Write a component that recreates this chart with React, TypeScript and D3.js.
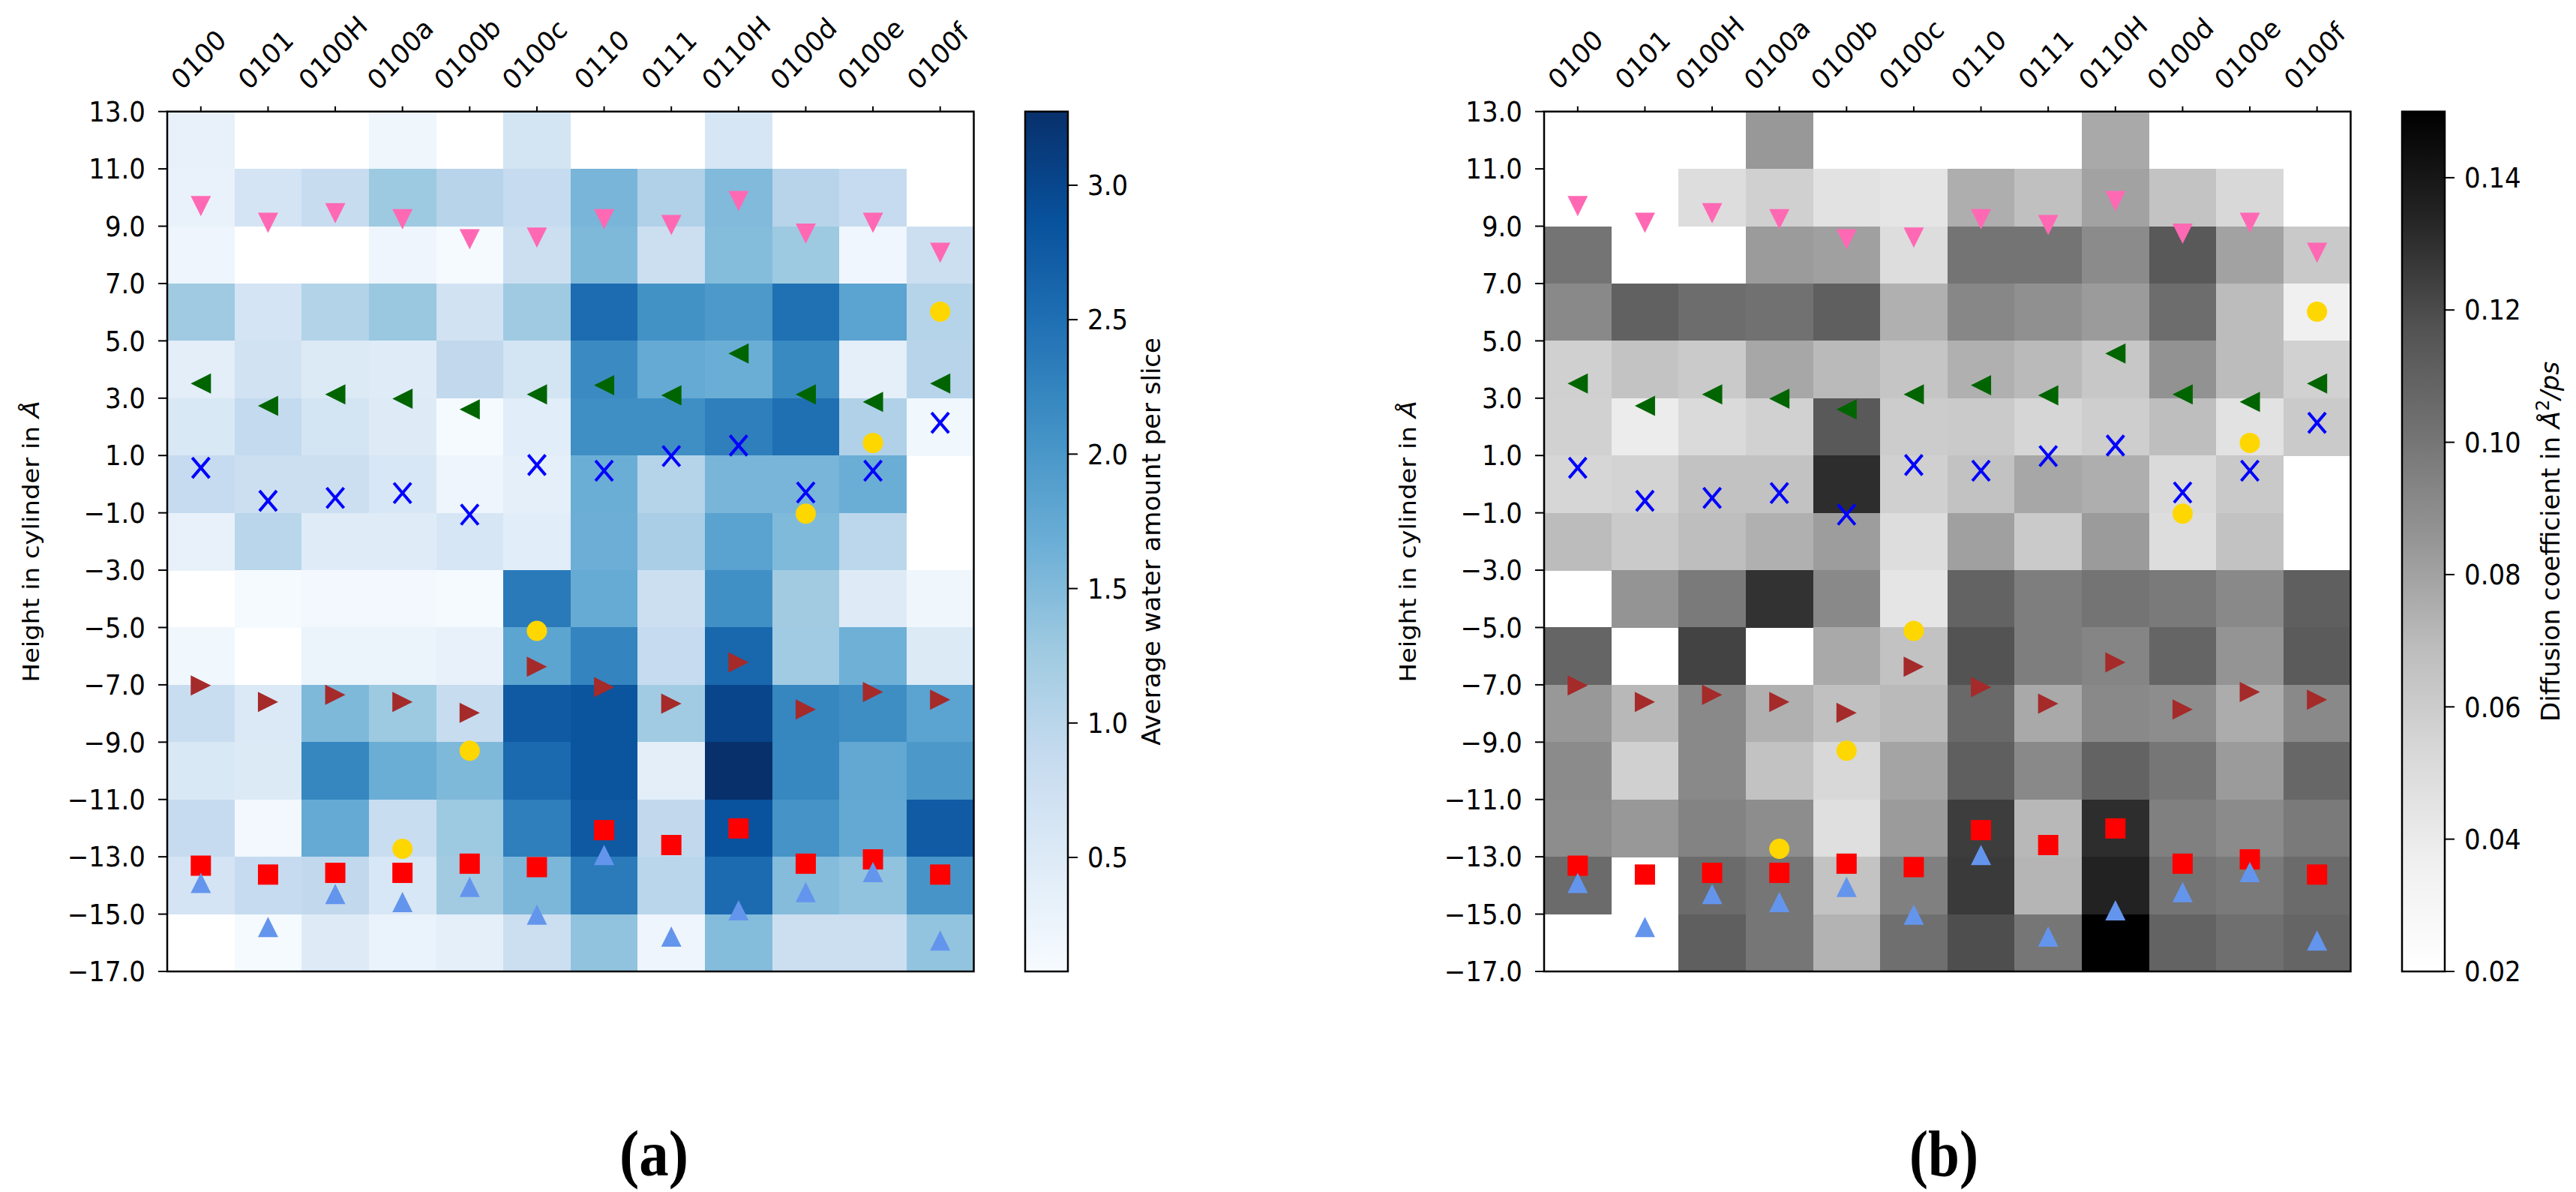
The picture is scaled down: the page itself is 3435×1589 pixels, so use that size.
import React from 'react';
import * as d3 from 'd3';

// ---------------- data ----------------
const columns = ['0100', '0101', '0100H', '0100a', '0100b', '0100c', '0110', '0111', '0110H', '0100d', '0100e', '0100f'];
// top edge (Å) of each 2 Å slice, from top to bottom
const sliceTops = [13, 11, 9, 7, 5, 3, 1, -1, -3, -5, -7, -9, -11, -13, -15];
const yTickValues = [13, 11, 9, 7, 5, 3, 1, -1, -3, -5, -7, -9, -11, -13, -15, -17];
const waterTicks = [0.5, 1.0, 1.5, 2.0, 2.5, 3.0];
const diffTicks = [0.02, 0.04, 0.06, 0.08, 0.1, 0.12, 0.14];
const waterRange = [0.076, 3.274];
const diffRange = [0.02, 0.15];

// average water amount per slice (rows = slices top→bottom, cols = columns)
const water: (number | null)[][] = [
  [0.32, null, null, 0.21, null, 0.66, null, null, 0.61, null, null, null],
  [0.30, 0.64, 0.85, 1.28, 1.03, 0.88, 1.57, 1.10, 1.50, 1.03, 0.88, null],
  [0.22, null, null, 0.22, 0.11, 0.78, 1.52, 0.77, 1.48, 1.28, 0.19, 0.77],
  [1.27, 0.64, 1.07, 1.31, 0.70, 1.27, 2.54, 2.07, 1.97, 2.49, 1.83, 1.05],
  [0.40, 0.70, 0.51, 0.46, 0.92, 0.66, 2.16, 1.73, 1.68, 2.17, 0.38, 1.03],
  [0.56, 0.90, 0.66, 0.48, 0.11, 0.43, 2.11, 2.11, 2.31, 2.50, 1.10, 0.18],
  [0.88, 0.77, 0.78, 0.58, 0.22, 0.38, 1.68, 1.05, 1.57, 1.57, 1.68, null],
  [0.32, 1.00, 0.46, 0.46, 0.61, 0.42, 1.67, 1.17, 1.84, 1.51, 0.98, null],
  [null, 0.11, 0.14, 0.14, 0.11, 2.36, 1.72, 0.77, 2.10, 1.24, 0.48, 0.21],
  [0.18, null, 0.27, 0.27, 0.32, 1.81, 2.24, 0.87, 2.60, 1.26, 1.64, 0.51],
  [0.83, 0.53, 1.52, 1.28, 0.84, 2.76, 2.82, 1.26, 3.02, 2.22, 2.12, 1.83],
  [0.56, 0.51, 2.22, 1.68, 1.52, 2.57, 2.82, 0.40, 3.27, 2.21, 1.76, 1.99],
  [0.88, 0.14, 1.73, 0.83, 1.28, 2.31, 2.78, 0.92, 2.86, 2.04, 1.74, 2.75],
  [0.64, 0.88, 0.92, 0.58, 1.24, 1.54, 2.35, 1.00, 2.55, 1.47, 1.38, 2.03],
  [null, 0.11, 0.48, 0.29, 0.38, 0.77, 1.38, 0.22, 1.48, 0.77, 0.77, 1.36],
];

// diffusion coefficient in Å²/ps
const diffusion: (number | null)[][] = [
  [null, null, null, 0.084, null, null, null, null, 0.077, null, null, null],
  [null, null, 0.050, 0.058, 0.046, 0.044, 0.075, 0.067, 0.080, 0.065, 0.053, null],
  [0.101, null, null, 0.083, 0.081, 0.050, 0.101, 0.101, 0.090, 0.114, 0.080, 0.062],
  [0.091, 0.110, 0.104, 0.102, 0.111, 0.074, 0.092, 0.088, 0.083, 0.104, 0.069, 0.036],
  [0.058, 0.065, 0.061, 0.078, 0.070, 0.064, 0.074, 0.070, 0.063, 0.087, 0.069, 0.057],
  [0.057, 0.039, 0.052, 0.057, 0.114, 0.060, 0.061, 0.054, 0.059, 0.068, 0.046, 0.061],
  [0.054, 0.056, 0.066, 0.066, 0.131, 0.058, 0.066, 0.078, 0.075, 0.052, 0.062, null],
  [0.069, 0.061, 0.068, 0.074, 0.082, 0.050, 0.081, 0.061, 0.083, 0.050, 0.066, null],
  [null, 0.086, 0.098, 0.129, 0.091, 0.044, 0.109, 0.096, 0.101, 0.098, 0.091, 0.111],
  [0.108, null, 0.123, null, 0.077, 0.066, 0.117, 0.096, 0.093, 0.108, 0.086, 0.113],
  [0.084, 0.071, 0.091, 0.074, 0.067, 0.070, 0.106, 0.077, 0.091, 0.089, 0.076, 0.091],
  [0.090, 0.058, 0.091, 0.066, 0.053, 0.079, 0.111, 0.091, 0.109, 0.100, 0.083, 0.107],
  [0.089, 0.084, 0.094, 0.089, 0.048, 0.083, 0.125, 0.071, 0.131, 0.095, 0.090, 0.098],
  [0.105, null, 0.105, 0.100, 0.065, 0.095, 0.126, 0.072, 0.135, 0.101, 0.098, 0.105],
  [null, null, 0.111, 0.100, 0.073, 0.103, 0.119, 0.100, 0.150, 0.109, 0.103, 0.108],
];

// marker heights (Å) per column
const pinkHeights = [9.70, 9.12, 9.45, 9.24, 8.54, 8.60, 9.24, 9.04, 9.88, 8.74, 9.12, 8.07];
const greenHeights = [3.51, 2.73, 3.13, 2.98, 2.61, 3.13, 3.45, 3.10, 4.56, 3.13, 2.87, 3.51];
const crossHeights = [0.57, -0.58, -0.48, -0.31, -1.06, 0.67, 0.47, 0.98, 1.35, -0.29, 0.47, 2.14];
const goldHeights: (number | null)[] = [null, null, null, -12.72, -9.30, -5.12, null, null, null, -1.03, 1.44, 6.02];
const brownHeights = [-7.02, -7.60, -7.35, -7.60, -7.98, -6.37, -7.08, -7.66, -6.22, -7.86, -7.25, -7.52];
const redHeights = [-13.31, -13.62, -13.56, -13.56, -13.24, -13.36, -12.07, -12.59, -12.01, -13.24, -13.09, -13.62];
const cornflowerHeights = [-13.91, -15.45, -14.30, -14.58, -14.05, -15.02, -12.94, -15.78, -14.87, -14.23, -13.53, -15.92];

const markerSeries = [
  { key: 'pink', shape: 'v', color: '#ff69b4', values: pinkHeights },
  { key: 'green', shape: '<', color: '#006400', values: greenHeights },
  { key: 'cross', shape: 'x', color: '#0000ff', values: crossHeights },
  { key: 'gold', shape: 'o', color: '#ffd700', values: goldHeights },
  { key: 'brown', shape: '>', color: '#a52a2a', values: brownHeights },
  { key: 'red', shape: 's', color: '#ff0000', values: redHeights },
  { key: 'cornflower', shape: '^', color: '#6495ed', values: cornflowerHeights },
];

const BLUES = ['#f7fbff', '#deebf7', '#c6dbef', '#9ecae1', '#6baed6', '#4292c6', '#2171b5', '#08519c', '#08306b'];
const GREYS = ['#ffffff', '#f0f0f0', '#d9d9d9', '#bdbdbd', '#969696', '#737373', '#525252', '#252525', '#000000'];

// ---------------- layout ----------------
const W = 3435;
const H = 1589;
const SHIFT = 1836;
const AX_L = 223;
const AX_R = 1298.5;
const AX_T = 148.7;
const AX_B = 1295;
const CB_L = 1367;
const CB_R = 1424;
const FONT = 'DejaVu Sans, Verdana, sans-serif';
const FS = 34;
const VSTRETCH = 1.08;

let measureCtx: CanvasRenderingContext2D | null = null;
function textWidth(t: string): number {
  if (!measureCtx) {
    const c = document.createElement('canvas');
    measureCtx = c.getContext('2d');
  }
  if (!measureCtx) return t.length * FS * 0.63;
  measureCtx.font = `${FS}px DejaVu Sans`;
  return measureCtx.measureText(t).width;
}

function markerPath(shape: string, cx: number, cy: number, s: number): string {
  const h = s / 2;
  switch (shape) {
    case 'v':
      return `M${cx - h},${cy - h}L${cx + h},${cy - h}L${cx},${cy + h}Z`;
    case '^':
      return `M${cx},${cy - h}L${cx + h},${cy + h}L${cx - h},${cy + h}Z`;
    case '<':
      return `M${cx - h},${cy}L${cx + h},${cy - h}L${cx + h},${cy + h}Z`;
    case '>':
      return `M${cx + h},${cy}L${cx - h},${cy - h}L${cx - h},${cy + h}Z`;
    default:
      return '';
  }
}

function makeCmap(colors: string[], lo: number, hi: number) {
  return d3
    .scaleLinear<string>()
    .domain(colors.map((_, i) => lo + (i * (hi - lo)) / (colors.length - 1)))
    .range(colors)
    .interpolate(d3.interpolateRgb)
    .clamp(true);
}

type PanelProps = {
  dx: number;
  data: (number | null)[][];
  colors: string[];
  range: number[];
  cbTicks: number[];
  fmt: (v: number) => string;
  cbLabel: React.ReactNode;
  cbLabelX: number;
  gradId: string;
};

function Panel({ dx, data, colors, range, cbTicks, fmt, cbLabel, cbLabelX, gradId }: PanelProps) {
  const x = d3.scaleBand<string>().domain(columns).range([AX_L + dx, AX_R + dx]).paddingInner(0).paddingOuter(0);
  const y = d3.scaleLinear().domain([-17, 13]).range([AX_B, AX_T]);
  const cb = d3.scaleLinear().domain(range).range([AX_B, AX_T]);
  const cmap = makeCmap(colors, range[0], range[1]);
  const yFmt = d3.format('.1f');
  const bw = x.bandwidth();
  const ms = 27;
  const boxH = FS * 1.164;

  return (
    <g>
      {/* heatmap cells */}
      <g shapeRendering="crispEdges">
        {data.map((row, ri) =>
          row.map((v, ci) =>
            v === null ? null : (
              <rect
                key={`c${ri}-${ci}`}
                x={x(columns[ci])}
                y={y(sliceTops[ri])}
                width={bw + 0.5}
                height={y(sliceTops[ri] - 2) - y(sliceTops[ri]) + 0.5}
                fill={cmap(v)}
              />
            )
          )
        )}
      </g>

      {/* markers */}
      {markerSeries.map((ser) => (
        <g key={ser.key}>
          {ser.values.map((v, ci) => {
            if (v === null || v === undefined) return null;
            const cx = (x(columns[ci]) as number) + bw / 2;
            const cy = y(v);
            if (ser.shape === 'o') return <circle key={ci} cx={cx} cy={cy} r={ms / 2} fill={ser.color} />;
            if (ser.shape === 's')
              return <rect key={ci} x={cx - ms / 2} y={cy - ms / 2} width={ms} height={ms} fill={ser.color} />;
            if (ser.shape === 'x') {
              const hw = 11.5;
              const hh = 13.5;
              return (
                <g key={ci} stroke={ser.color} strokeWidth={4}>
                  <line x1={cx - hw} y1={cy - hh} x2={cx + hw} y2={cy + hh} />
                  <line x1={cx - hw} y1={cy + hh} x2={cx + hw} y2={cy - hh} />
                </g>
              );
            }
            return <path key={ci} d={markerPath(ser.shape, cx, cy, ms)} fill={ser.color} />;
          })}
        </g>
      ))}

      {/* frame */}
      <rect x={AX_L + dx} y={AX_T} width={AX_R - AX_L} height={AX_B - AX_T} fill="none" stroke="#000" strokeWidth={2.5} />

      {/* y axis */}
      {yTickValues.map((t) => (
        <g key={`yt${t}`}>
          <line x1={AX_L + dx - 12} x2={AX_L + dx} y1={y(t)} y2={y(t)} stroke="#000" strokeWidth={2} />
          <text
            transform={`translate(${AX_L + dx - 29},${y(t)}) scale(1,${VSTRETCH})`}
            dy="0.36em"
            textAnchor="end"
            fontFamily={FONT}
            fontSize={FS}
            fill="#000"
          >
            {yFmt(t)}
          </text>
        </g>
      ))}
      <text
        transform={`translate(${41 + dx},${(AX_T + AX_B) / 2}) rotate(-90) scale(1.13,1)`}
        textAnchor="middle"
        dy="0.35em"
        fontFamily={FONT}
        fontSize={30}
        fill="#000"
      >
        Height in cylinder in <tspan fontStyle="italic">Å</tspan>
      </text>

      {/* x axis (top) */}
      {columns.map((c) => {
        const tx = (x(c) as number) + bw / 2;
        const w = textWidth(c);
        const s = (w + boxH) * 0.7071;
        const cx = tx - 3;
        const cy = 124 - s / 2;
        return (
          <g key={`xt${c}`}>
            <line x1={tx} x2={tx} y1={AX_T - 7} y2={AX_T} stroke="#000" strokeWidth={2} />
            <text
              transform={`translate(${cx},${cy}) scale(1,${VSTRETCH}) rotate(-45)`}
              textAnchor="middle"
              dy="0.35em"
              fontFamily={FONT}
              fontSize={FS}
              fill="#000"
            >
              {c}
            </text>
          </g>
        );
      })}

      {/* colorbar */}
      <defs>
        <linearGradient id={gradId} x1="0" y1="1" x2="0" y2="0">
          {colors.map((col, i) => (
            <stop key={i} offset={`${(i / (colors.length - 1)) * 100}%`} stopColor={col} />
          ))}
        </linearGradient>
      </defs>
      <rect x={CB_L + dx} y={AX_T} width={CB_R - CB_L} height={AX_B - AX_T} fill={`url(#${gradId})`} stroke="#000" strokeWidth={2.5} />
      {cbTicks.map((t) => (
        <g key={`cb${t}`}>
          <line x1={CB_R + dx} x2={CB_R + dx + 13} y1={cb(t)} y2={cb(t)} stroke="#000" strokeWidth={2} />
          <text
            transform={`translate(${CB_R + dx + 26},${cb(t)}) scale(1,${VSTRETCH})`}
            dy="0.36em"
            fontFamily={FONT}
            fontSize={FS}
            fill="#000"
          >
            {fmt(t)}
          </text>
        </g>
      ))}
      <text
        transform={`translate(${cbLabelX},${(AX_T + AX_B) / 2}) rotate(-90)`}
        textAnchor="middle"
        dy="0.35em"
        fontFamily={FONT}
        fontSize={FS}
        fill="#000"
      >
        {cbLabel}
      </text>
    </g>
  );
}

export default function App() {
  const f1 = d3.format('.1f');
  const f2 = d3.format('.2f');
  return (
    <svg
      width={W}
      height={H}
      viewBox={`0 0 ${W} ${H}`}
      style={{ position: 'absolute', left: 0, top: 0, background: '#fff' }}
    >
      <rect x={0} y={0} width={W} height={H} fill="#fff" />
      <Panel
        dx={0}
        data={water}
        colors={BLUES}
        range={waterRange}
        cbTicks={waterTicks}
        fmt={f1}
        cbLabel="Average water amount per slice"
        cbLabelX={1535}
        gradId="gradBlues"
      />
      <Panel
        dx={SHIFT}
        data={diffusion}
        colors={GREYS}
        range={diffRange}
        cbTicks={diffTicks}
        fmt={f2}
        cbLabel={
          <>
            Diffusion coefficient in <tspan fontStyle="italic">Å</tspan>
            <tspan fontSize={24} dy="-0.6em">2</tspan>
            <tspan dy="0.4em" fontStyle="italic">/ps</tspan>
          </>
        }
        cbLabelX={3401}
        gradId="gradGreys"
      />
      <text x={872} y={1567} textAnchor="middle" fontFamily="Liberation Serif, Times New Roman, serif" fontWeight="bold" fontSize={86} textLength={92} lengthAdjust="spacingAndGlyphs">
        (a)
      </text>
      <text x={2592} y={1567} textAnchor="middle" fontFamily="Liberation Serif, Times New Roman, serif" fontWeight="bold" fontSize={86} textLength={92} lengthAdjust="spacingAndGlyphs">
        (b)
      </text>
    </svg>
  );
}
